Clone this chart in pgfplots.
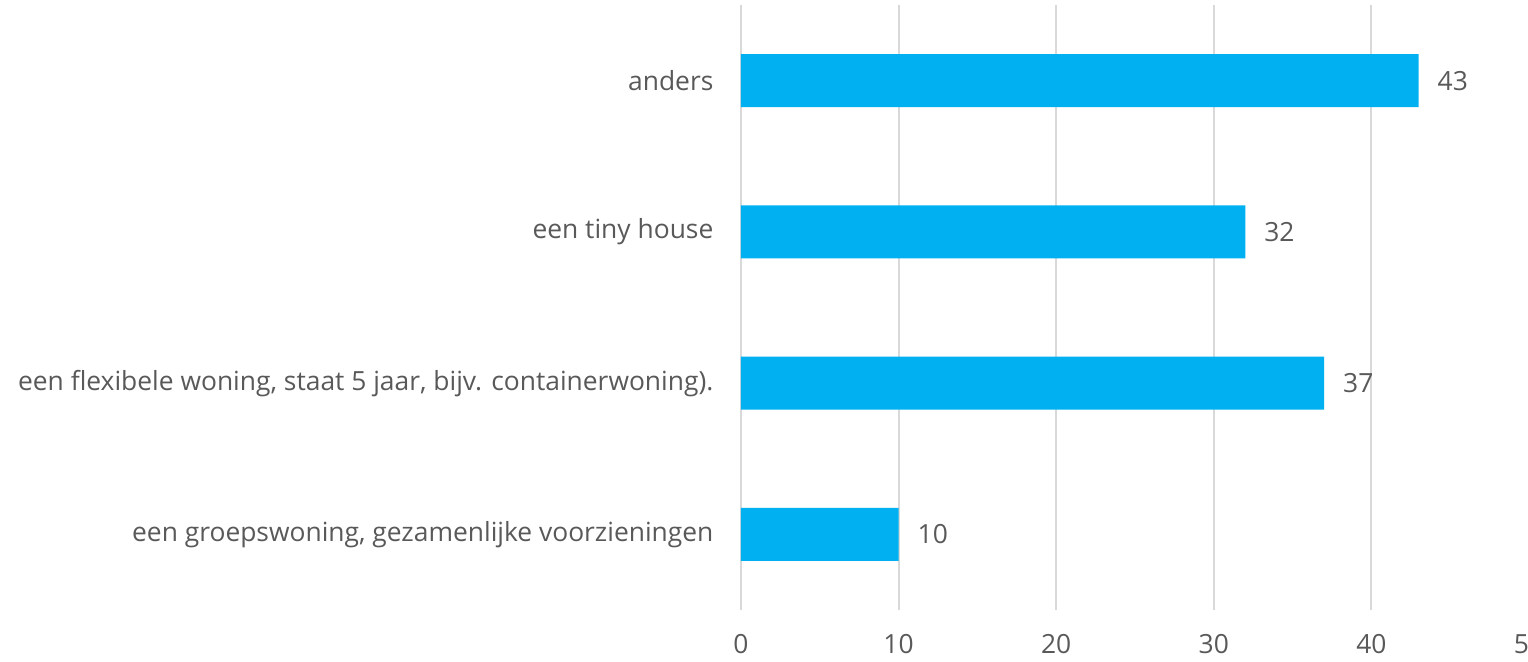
\documentclass[border=0pt]{standalone}
\usepackage{pgfplots}
\pgfplotsset{compat=1.18}
\usepackage{fontspec}
\setmainfont{Open Sans}
\definecolor{barblue}{HTML}{00B0F0}
\definecolor{gridgray}{HTML}{D9D9D9}
\definecolor{txtgray}{HTML}{595959}
\begin{document}
\begin{tikzpicture}
\begin{axis}[
  scale only axis,
  width=394pt, height=302.5pt,
  xmin=0, xmax=50,
  ymin=-0.5, ymax=3.5,
  xtick={0,10,20,30,40,50},
  ytick={0,1,2,3},
  yticklabels={{een groepswoning, gezamenlijke voorzieningen},
    {een flexibele woning, staat 5 jaar, bijv. containerwoning).},
    {een tiny house}, {anders}},
  axis line style={draw=none},
  tick style={draw=none},
  xmajorgrids,
  major grid style={gridgray, line width=1pt},
  /pgf/number format/assume math mode=true,
  ticklabel style={font=\fontsize{13.2}{15}\selectfont, text=txtgray},
  xticklabel style={yshift=-8.5pt},
  yticklabel style={xshift=-6pt},
  xbar, bar width=26.5pt,
  nodes near coords,
  every node near coord/.append style={font=\fontsize{13.2}{15}\selectfont, text=txtgray, xshift=6pt},
  clip=false,
]
\addplot[fill=barblue, draw=none] coordinates {(10,0) (37,1) (32,2) (43,3)};
\end{axis}
\pgfresetboundingbox
\path[use as bounding box] (-370.5pt,-26pt) rectangle (393.5pt,305pt);
\end{tikzpicture}
\end{document}
